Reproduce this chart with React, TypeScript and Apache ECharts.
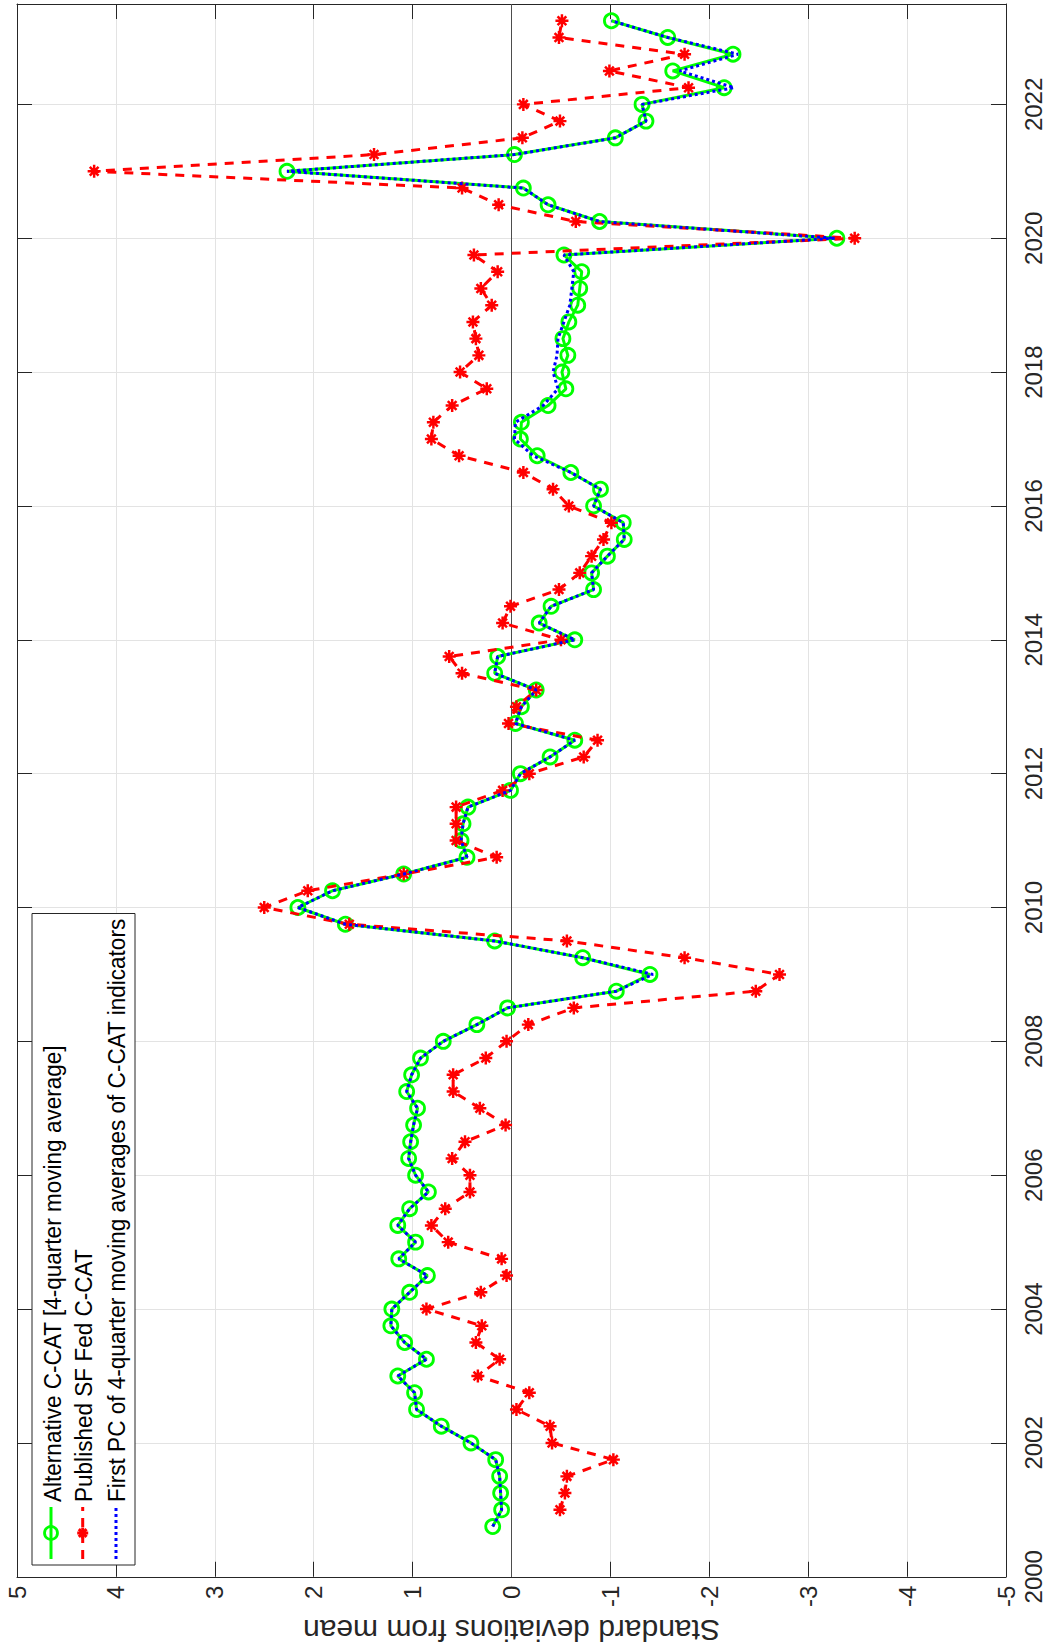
import React, { useEffect, useRef } from 'react';
import * as echarts from 'echarts';

// Quarterly dates (decimal years) of the Alternative C-CAT / First PC series
const quarters = [
  2000.75,
  2001.0, 2001.25, 2001.5, 2001.75,
  2002.0, 2002.25, 2002.5, 2002.75,
  2003.0, 2003.25, 2003.5, 2003.75,
  2004.0, 2004.25, 2004.5, 2004.75,
  2005.0, 2005.25, 2005.5, 2005.75,
  2006.0, 2006.25, 2006.5, 2006.75,
  2007.0, 2007.25, 2007.5, 2007.75,
  2008.0, 2008.25, 2008.5, 2008.75,
  2009.0, 2009.25, 2009.5, 2009.75,
  2010.0, 2010.25, 2010.5, 2010.75,
  2011.0, 2011.25, 2011.5, 2011.75,
  2012.0, 2012.25, 2012.5, 2012.75,
  2013.0, 2013.25, 2013.5, 2013.75,
  2014.0, 2014.25, 2014.5, 2014.75,
  2015.0, 2015.25, 2015.5, 2015.75,
  2016.0, 2016.25, 2016.5, 2016.75,
  2017.0, 2017.25, 2017.5, 2017.75,
  2018.0, 2018.25, 2018.5, 2018.75,
  2019.0, 2019.25, 2019.5, 2019.75,
  2020.0, 2020.25, 2020.5, 2020.75,
  2021.0, 2021.25, 2021.5, 2021.75,
  2022.0, 2022.25, 2022.5, 2022.75,
  2023.0, 2023.25,
];

// Published SF Fed C-CAT starts one quarter later (2001Q1)
const quartersPublished = quarters.slice(1);

const altCCAT = [
  0.19,
  0.10, 0.11, 0.12, 0.16,
  0.41, 0.71, 0.96, 0.98,
  1.15, 0.86, 1.08, 1.22,
  1.21, 1.03, 0.85, 1.14,
  0.97, 1.15, 1.03, 0.84,
  0.97, 1.04, 1.02, 0.99,
  0.95, 1.06, 1.01, 0.92,
  0.69, 0.35, 0.04, -1.06,
  -1.40, -0.72, 0.17, 1.68,
  2.16, 1.81, 1.09, 0.45,
  0.51, 0.49, 0.44, 0.01,
  -0.09, -0.39, -0.64, -0.04,
  -0.10, -0.25, 0.17, 0.14,
  -0.64, -0.28, -0.40, -0.83,
  -0.81, -0.97, -1.14, -1.13,
  -0.83, -0.90, -0.60, -0.26,
  -0.09, -0.10, -0.37, -0.55,
  -0.51, -0.57, -0.52, -0.58,
  -0.67, -0.69, -0.71, -0.53,
  -3.29, -0.89, -0.37, -0.12,
  2.27, -0.03, -1.05, -1.36,
  -1.32, -2.15, -1.63, -2.24,
  -1.58, -1.01,
];

const publishedCCAT = [
  -0.49, -0.54, -0.56, -1.03,
  -0.41, -0.39, -0.05, -0.18,
  0.34, 0.12, 0.36, 0.30,
  0.86, 0.31, 0.05, 0.10,
  0.64, 0.81, 0.67, 0.42,
  0.42, 0.60, 0.47, 0.06,
  0.32, 0.59, 0.59, 0.26,
  0.05, -0.17, -0.63, -2.47,
  -2.71, -1.75, -0.56, 1.64,
  2.50, 2.06, 1.09, 0.15,
  0.56, 0.56, 0.56, 0.09,
  -0.18, -0.73, -0.87, 0.03,
  -0.05, -0.25, 0.50, 0.63,
  -0.50, 0.09, 0.01, -0.48,
  -0.69, -0.81, -0.93, -1.01,
  -0.58, -0.42, -0.12, 0.53,
  0.81, 0.79, 0.60, 0.25,
  0.52, 0.33, 0.36, 0.39,
  0.20, 0.31, 0.14, 0.38,
  -3.47, -0.65, 0.13, 0.50,
  4.22, 1.39, -0.11, -0.49,
  -0.12, -1.79, -0.99, -1.75,
  -0.48, -0.51,
];

const firstPC = [
  0.19,
  0.10, 0.11, 0.12, 0.16,
  0.41, 0.71, 0.96, 0.98,
  1.15, 0.86, 1.08, 1.22,
  1.21, 1.03, 0.85, 1.14,
  0.97, 1.15, 1.03, 0.84,
  0.97, 1.04, 1.02, 0.99,
  0.95, 1.06, 1.01, 0.92,
  0.69, 0.35, 0.04, -1.06,
  -1.43, -0.72, 0.17, 1.68,
  2.16, 1.81, 1.09, 0.45,
  0.51, 0.49, 0.44, 0.01,
  -0.09, -0.39, -0.64, -0.04,
  -0.10, -0.25, 0.17, 0.14,
  -0.64, -0.28, -0.40, -0.83,
  -0.81, -0.97, -1.14, -1.13,
  -0.83, -0.90, -0.60, -0.22,
  -0.03, -0.04, -0.32, -0.47,
  -0.42, -0.46, -0.47, -0.53,
  -0.59, -0.61, -0.63, -0.53,
  -3.27, -0.89, -0.37, -0.12,
  2.27, -0.03, -1.05, -1.36,
  -1.32, -2.25, -1.70, -2.29,
  -1.58, -1.01,
];

const legendLabels = [
  'Alternative C-CAT [4-quarter moving average]',
  'Published SF Fed C-CAT',
  'First PC of 4-quarter moving averages of C-CAT indicators',
];
const valueAxisTitle = 'Standard deviations from mean';

const FONT = "'Liberation Sans', Arial, Helvetica, sans-serif";
const AX = '#262626';
const GRID = '#e3e3e3';
const GREEN = '#00ff00';
const RED = '#ff0000';
const BLUE = '#0000ff';

const ASTER =
  'path://M0.5 8.2L19.5 8.2L19.5 11.8L0.5 11.8Z M8.2 0.5L11.8 0.5L11.8 19.5L8.2 19.5Z M4.9 2.3L17.7 15.1L15.1 17.7L2.3 4.9Z M17.7 4.9L4.9 17.7L2.3 15.1L15.1 2.3Z';

function pairs(vals: number[], times: number[]) {
  return vals.map((v, i) => [v, times[i]]);
}

function buildLegend() {
  const symX = [51, 82.7, 116];
  const txtX = [52.5, 84, 117];
  const yTop = 1507;
  const yBot = 1559;
  const yMid = 1533;
  const els: any[] = [
    {
      type: 'rect',
      shape: { x: 32, y: 913.5, width: 103, height: 651.5 },
      style: { fill: '#ffffff', stroke: AX, lineWidth: 1 },
      z: 100,
    },
    {
      type: 'line',
      shape: { x1: symX[0], y1: yBot, x2: symX[0], y2: yTop },
      style: { stroke: GREEN, lineWidth: 3 },
      z: 101,
    },
    {
      type: 'circle',
      shape: { cx: symX[0], cy: yMid, r: 6.5 },
      style: { fill: 'none', stroke: GREEN, lineWidth: 2.8 },
      z: 102,
    },
    {
      type: 'line',
      shape: { x1: symX[1], y1: yBot, x2: symX[1], y2: yTop },
      style: { stroke: RED, lineWidth: 3, lineDash: [9, 7] },
      z: 101,
    },
    {
      type: 'line',
      shape: { x1: symX[2], y1: yBot, x2: symX[2], y2: yTop },
      style: { stroke: BLUE, lineWidth: 3, lineDash: [3, 3] },
      z: 101,
    },
  ];
  const r = 5.5;
  [0, 45, 90, 135].forEach((deg) => {
    const a = (deg * Math.PI) / 180;
    els.push({
      type: 'line',
      shape: {
        x1: symX[1] - r * Math.cos(a),
        y1: yMid - r * Math.sin(a),
        x2: symX[1] + r * Math.cos(a),
        y2: yMid + r * Math.sin(a),
      },
      style: { stroke: RED, lineWidth: 3 },
      z: 102,
    });
  });
  legendLabels.forEach((t, i) => {
    els.push({
      type: 'text',
      x: txtX[i],
      y: 1502,
      rotation: Math.PI / 2,
      scaleX: 0.94,
      style: {
        text: t,
        fontSize: 24,
        fontFamily: FONT,
        fill: '#000000',
        align: 'left',
        verticalAlign: 'middle',
      },
      z: 102,
    });
  });
  return els;
}

export default function App() {
  const ref = useRef<HTMLDivElement>(null);
  useEffect(() => {
    if (!ref.current) return;
    const chart = echarts.init(ref.current, undefined, { renderer: 'svg' });
    const axisCommon = {
      axisLine: { show: true, onZero: false, lineStyle: { color: AX, width: 1 } },
      axisTick: { show: true, inside: true, length: 15, lineStyle: { color: AX, width: 1 } },
    };
    const option: any = {
      animation: false,
      backgroundColor: '#ffffff',
      textStyle: { fontFamily: FONT },
      grid: { left: 17, right: 38, top: 4, bottom: 71, containLabel: false },
      xAxis: [
        {
          type: 'value',
          position: 'bottom',
          min: -5,
          max: 5,
          interval: 1,
          inverse: true,
          name: valueAxisTitle,
          nameLocation: 'middle',
          nameRotate: 180,
          nameGap: 35,
          nameTextStyle: { fontSize: 30, color: AX, fontFamily: FONT },
          ...axisCommon,
          axisLabel: { rotate: 90, fontSize: 24, color: AX, margin: 9, fontFamily: FONT },
          splitLine: { show: true, lineStyle: { color: GRID, width: 1 } },
        },
        {
          type: 'value',
          position: 'top',
          min: -5,
          max: 5,
          interval: 1,
          inverse: true,
          ...axisCommon,
          axisLabel: { show: false },
          splitLine: { show: false },
        },
      ],
      yAxis: [
        {
          type: 'value',
          position: 'right',
          min: 2000,
          max: 2023.5,
          interval: 2,
          ...axisCommon,
          axisLabel: {
            rotate: 90,
            fontSize: 24,
            color: AX,
            margin: 15,
            fontFamily: FONT,
            showMaxLabel: false,
            formatter: (v: number) => (Number.isInteger(v) ? String(v) : ''),
          },
          splitLine: { show: true, lineStyle: { color: GRID, width: 1 } },
        },
        {
          type: 'value',
          position: 'left',
          min: 2000,
          max: 2023.5,
          interval: 2,
          ...axisCommon,
          axisLabel: { show: false },
          splitLine: { show: false },
        },
      ],
      series: [
        {
          name: legendLabels[0],
          type: 'line',
          xAxisIndex: 0,
          yAxisIndex: 0,
          data: pairs(altCCAT, quarters),
          showAllSymbol: true,
          symbol: 'circle',
          symbolSize: 14,
          lineStyle: { color: GREEN, width: 3 },
          itemStyle: { color: 'rgba(0,0,0,0)', borderColor: GREEN, borderWidth: 2.8 },
          emphasis: { disabled: true },
          markLine: {
            silent: true,
            z: 1,
            symbol: ['none', 'none'],
            label: { show: false },
            lineStyle: { color: '#4d4d4d', width: 1, type: 'solid' },
            data: [{ xAxis: 0 }],
          },
          z: 3,
        },
        {
          name: legendLabels[1],
          type: 'line',
          xAxisIndex: 0,
          yAxisIndex: 0,
          data: pairs(publishedCCAT, quartersPublished),
          showAllSymbol: true,
          symbol: ASTER,
          symbolSize: 13,
          lineStyle: { color: RED, width: 3, type: [9, 8] },
          itemStyle: { color: RED },
          emphasis: { disabled: true },
          z: 4,
        },
        {
          name: legendLabels[2],
          type: 'line',
          xAxisIndex: 0,
          yAxisIndex: 0,
          data: pairs(firstPC, quarters),
          symbol: 'none',
          lineStyle: { color: BLUE, width: 3, type: [3, 3] },
          emphasis: { disabled: true },
          z: 5,
        },
      ],
      graphic: buildLegend(),
    };
    chart.setOption(option);
    return () => {
      chart.dispose();
    };
  }, []);
  return (
    <div
      ref={ref}
      style={{ position: 'absolute', left: 0, top: 0, width: 1045, height: 1650, background: '#fff' }}
    />
  );
}
